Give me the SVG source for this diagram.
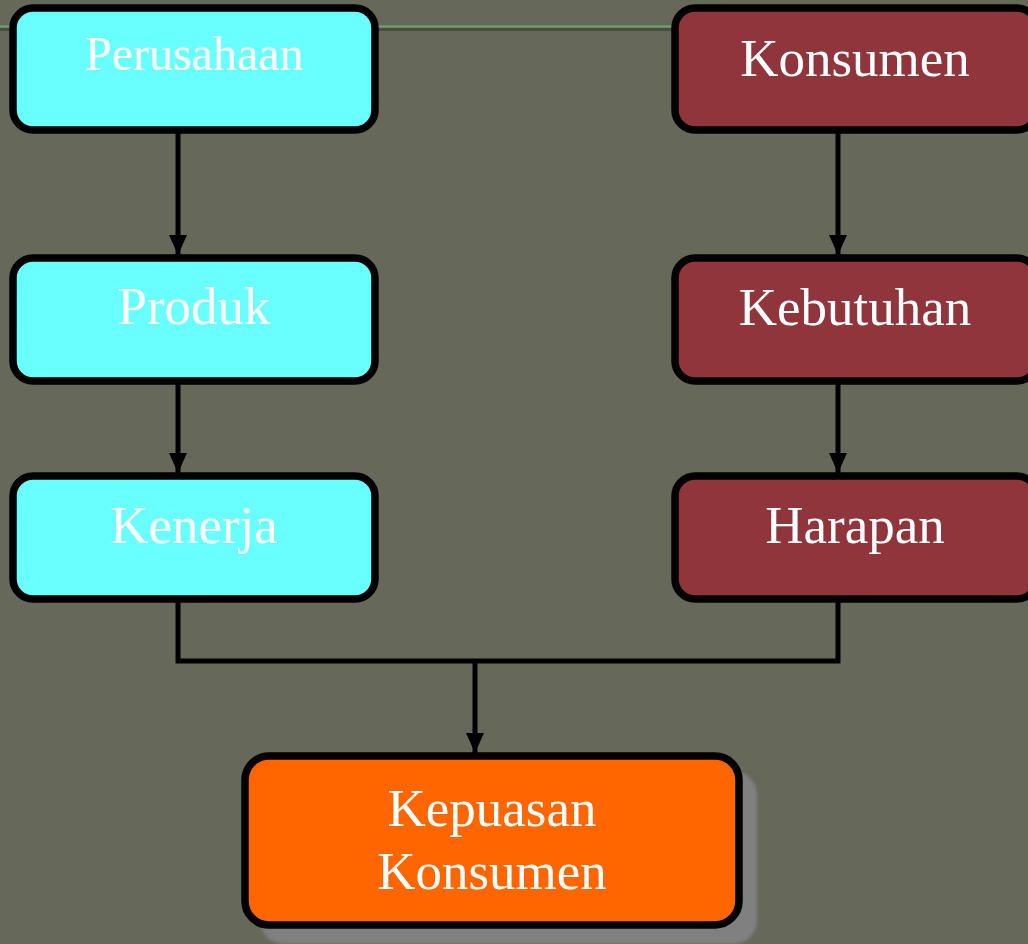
<svg xmlns="http://www.w3.org/2000/svg" width="1028" height="944" viewBox="0 0 1028 944">
  <style>
    .box { stroke: #000; stroke-width: 7.5; }
    .cyan { fill: #69FFFF; }
    .maroon { fill: #8F353B; }
    .orange { fill: #FF6600; }
    .label { font-family: "Liberation Serif", "Times New Roman", serif; font-size: 53px; fill: #FFFFFF; text-anchor: middle; }
    .wire { fill: none; stroke: #000; stroke-width: 5; }
  </style>
  <defs>
    <!-- arrowhead drawn along +x so orient="auto" turns it with the line -->
    <marker id="arrow" viewBox="0 0 20 18" refX="20" refY="9" markerWidth="20" markerHeight="18" markerUnits="userSpaceOnUse" orient="auto">
      <path d="M0,0 L20,9 L0,18 Z" fill="#000"/>
    </marker>
    <filter id="soft" x="-10%" y="-10%" width="120%" height="120%">
      <feGaussianBlur stdDeviation="1.5"/>
    </filter>
  </defs>

  <!-- backdrop -->
  <rect width="1028" height="944" fill="#66685A"/>
  <line x1="0" y1="29.5" x2="675" y2="29.5" stroke="#4B4D42" stroke-width="3"/>
  <line x1="0" y1="26.5" x2="675" y2="26.5" stroke="#6FA572" stroke-width="2"/>

  <!-- connectors -->
  <g id="connectors">
    <line class="wire" x1="178" y1="132" x2="178" y2="255" marker-end="url(#arrow)"/>
    <line class="wire" x1="178" y1="382" x2="178" y2="473" marker-end="url(#arrow)"/>
    <line class="wire" x1="838" y1="132" x2="838" y2="255" marker-end="url(#arrow)"/>
    <line class="wire" x1="838" y1="382" x2="838" y2="473" marker-end="url(#arrow)"/>
    <polyline class="wire" points="178,600 178,661 838,661 838,600"/>
    <line class="wire" x1="475" y1="661" x2="475" y2="753" marker-end="url(#arrow)"/>
  </g>

  <!-- left column -->
  <g id="perusahaan">
    <rect class="box cyan" x="13" y="8" width="362" height="122" rx="20"/>
    <text class="label" x="194" y="70" style="font-size:48px">Perusahaan</text>
  </g>
  <g id="produk">
    <rect class="box cyan" x="13" y="258" width="362" height="123" rx="20"/>
    <text class="label" x="194" y="324">Produk</text>
  </g>
  <g id="kenerja">
    <rect class="box cyan" x="13" y="476" width="362" height="123" rx="20"/>
    <text class="label" x="194" y="543">Kenerja</text>
  </g>

  <!-- right column -->
  <g id="konsumen">
    <rect class="box maroon" x="675" y="8" width="362" height="122" rx="20"/>
    <text class="label" x="855" y="76">Konsumen</text>
  </g>
  <g id="kebutuhan">
    <rect class="box maroon" x="675" y="258" width="362" height="123" rx="20"/>
    <text class="label" x="855" y="325">Kebutuhan</text>
  </g>
  <g id="harapan">
    <rect class="box maroon" x="675" y="476" width="362" height="123" rx="20"/>
    <text class="label" x="855" y="543">Harapan</text>
  </g>

  <!-- result -->
  <g id="kepuasan-konsumen">
    <rect x="260" y="771" width="497" height="173" rx="24" fill="#808080" filter="url(#soft)"/>
    <rect class="box orange" x="245" y="756" width="494" height="169" rx="24"/>
    <text class="label" x="492" y="826">Kepuasan</text>
    <text class="label" x="492" y="889">Konsumen</text>
  </g>
</svg>
